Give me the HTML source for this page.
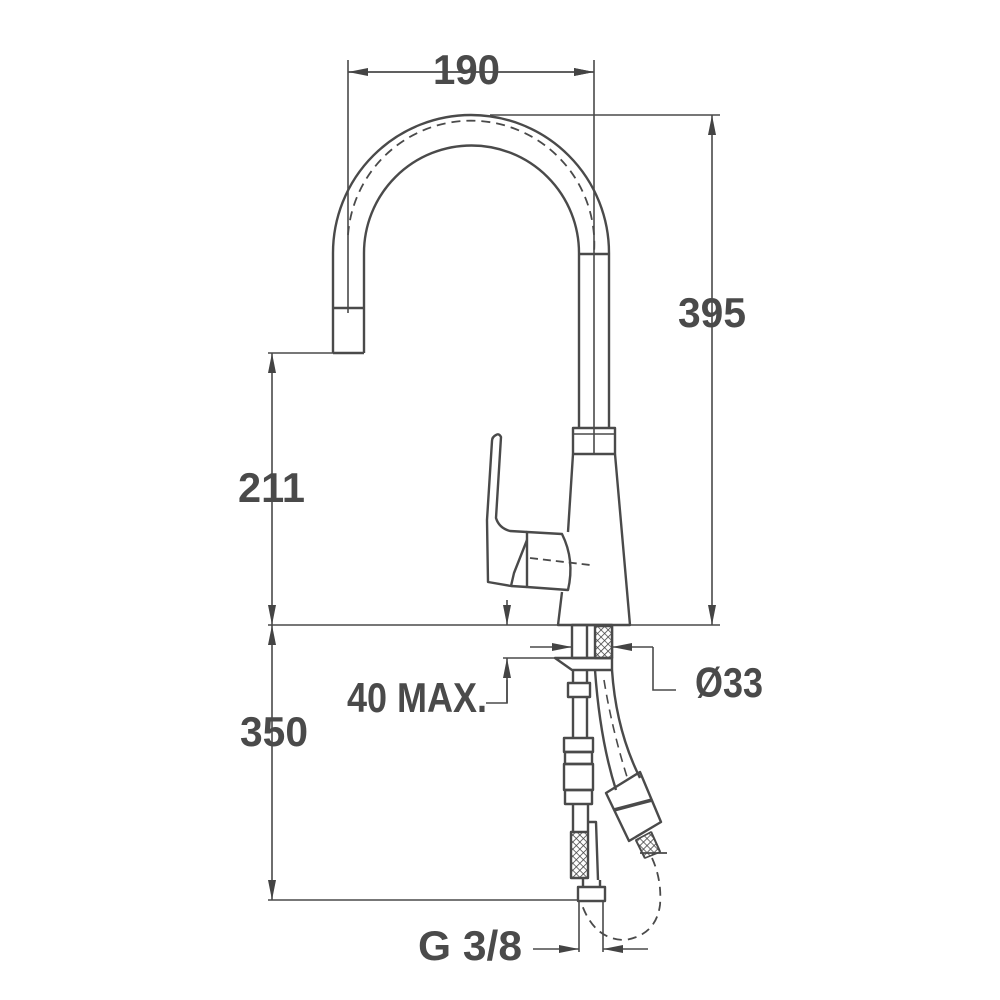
<!DOCTYPE html>
<html><head><meta charset="utf-8"><style>
html,body{margin:0;padding:0;background:#fff;width:1000px;height:1000px;overflow:hidden}
svg{display:block}
text{font-family:"Liberation Sans Narrow","Liberation Sans",sans-serif;font-weight:bold;fill:#4a4a4a;font-size:42px}
</style></head><body>
<svg width="1000" height="1000" viewBox="0 0 1000 1000" xmlns="http://www.w3.org/2000/svg">
<defs>
<marker id="a" viewBox="0 0 20 8" refX="20" refY="4" markerWidth="20" markerHeight="8" markerUnits="userSpaceOnUse" orient="auto">
<path d="M0,0 L20,4 L0,8 Z" fill="#444"/></marker>
<pattern id="h" width="5" height="5" patternUnits="userSpaceOnUse" patternTransform="rotate(45)">
<rect width="5" height="5" fill="#fff"/><path d="M0,0V5M0,0H5" stroke="#444" stroke-width="1.6"/></pattern>
</defs>
<g fill="none" stroke="#4a4a4a" stroke-width="1.6">
<!-- dimension lines -->
<line x1="348" y1="60" x2="348" y2="313"/>
<line x1="594" y1="60" x2="594" y2="428"/>
<line x1="348" y1="72" x2="594" y2="72" marker-end="url(#a)" marker-start="url(#a)" style="marker-start:none"/>
<line x1="470" y1="72" x2="348" y2="72" marker-end="url(#a)"/>
<line x1="470" y1="72" x2="594" y2="72" marker-end="url(#a)"/>
<line x1="490" y1="115" x2="720" y2="115"/>
<line x1="712" y1="370" x2="712" y2="115" marker-end="url(#a)"/>
<line x1="712" y1="370" x2="712" y2="625" marker-end="url(#a)"/>
<line x1="268" y1="353" x2="333" y2="353"/>
<line x1="272" y1="490" x2="272" y2="353" marker-end="url(#a)"/>
<line x1="272" y1="490" x2="272" y2="625" marker-end="url(#a)"/>
<line x1="268" y1="625" x2="720" y2="625"/>
<line x1="272" y1="760" x2="272" y2="625" marker-end="url(#a)"/>
<line x1="272" y1="760" x2="272" y2="900" marker-end="url(#a)"/>
<line x1="268" y1="900" x2="579" y2="900"/>
<!-- 40 max -->
<line x1="507" y1="600" x2="507" y2="625" marker-end="url(#a)"/>
<polyline points="507,680 507,703 486,703"/>
<line x1="507" y1="703" x2="507" y2="658" marker-end="url(#a)"/>
<line x1="503" y1="658" x2="560" y2="658"/>
<!-- Ø33 -->
<line x1="530" y1="647" x2="572" y2="647" marker-end="url(#a)"/>
<polyline points="653,647 653,690 676,690"/>
<line x1="653" y1="647" x2="612" y2="647" marker-end="url(#a)"/>
<!-- G 3/8 -->
<line x1="579" y1="900" x2="579" y2="952"/>
<line x1="603" y1="900" x2="603" y2="952"/>
<line x1="533" y1="949" x2="579" y2="949" marker-end="url(#a)"/>
<line x1="648" y1="949" x2="603" y2="949" marker-end="url(#a)"/>
</g>
<g fill="none" stroke="#4a4a4a" stroke-width="2.4" stroke-linejoin="round">
<!-- spout -->
<path d="M333,353 L333,253 A138,138 0 0 1 609,253 L609,428"/>
<path d="M364,353 L364,253 A107,107 0 0 1 579,253 L579,428"/>
<line x1="333" y1="353" x2="364" y2="353"/>
<line x1="333" y1="308" x2="364" y2="308"/>
<line x1="579" y1="254" x2="609" y2="254"/>
<path d="M348,235 A123,123 0 0 1 594,253" stroke-dasharray="9,6" stroke-width="1.8"/>
<!-- collar -->
<rect x="573" y="428" width="42" height="26"/>
<line x1="594" y1="428" x2="594" y2="454" stroke-width="1.6"/>
<line x1="573" y1="434" x2="615" y2="434" stroke-width="1.6"/>
<!-- body -->
<path d="M573,454 L568,532 M562,592 L558,625 L630,625 L615,454"/>
<!-- cylinder -->
<path d="M527,532 L562,534 Q575,560 568,590 L527,587 Z"/>
<line x1="530" y1="558" x2="590" y2="565" stroke-dasharray="8,5" stroke-width="1.8"/>
<!-- lever -->
<path d="M527,532 L510,531 Q499,528 496,518 L501,437 Q499,433 496,435 Q492,437 492,441 L487,520 L488,582 L511,586 L527,587"/>
<path d="M527,540 L514,573 L511,586"/>
<!-- shank -->
<rect x="572" y="625" width="40" height="33"/>
<line x1="587" y1="625" x2="587" y2="658"/>
<rect x="595" y="626" width="17" height="32" fill="url(#h)"/>
<path d="M555,658 L612,658 L612,670 L572,670 Z"/>
<!-- left hose -->
<line x1="573" y1="670" x2="573" y2="683"/><line x1="587" y1="670" x2="587" y2="683"/>
<rect x="568" y="683" width="22" height="14"/>
<line x1="573" y1="697" x2="573" y2="738"/><line x1="587" y1="697" x2="587" y2="738"/>
<rect x="564" y="738" width="29" height="14"/>
<rect x="565" y="752" width="27" height="12"/>
<rect x="564" y="764" width="29" height="26"/>
<rect x="565" y="790" width="27" height="14"/>
<line x1="573" y1="804" x2="573" y2="832"/><line x1="588" y1="804" x2="588" y2="832"/>
<rect x="571" y="832" width="17" height="46" fill="url(#h)"/>
<path d="M588,822 L596,822 L598,880"/>
<rect x="578" y="887" width="27" height="14"/>
<path d="M583,878 L583,887 M600,880 L600,887"/>
<!-- right hose -->
<path d="M595,670 Q600,740 616,790"/>
<path d="M612,670 Q616,730 640,778"/>
<path d="M604,680 Q612,730 628,780" stroke-dasharray="9,6" stroke-width="1.6"/>
<path d="M606,793 L640,772 L661,822 L629,841 Z"/>
<path d="M614,810 L652,800" stroke-width="3.5"/>
<path d="M636,840 L645,858 M651,832 L660,852" />
<path d="M636,840 L651,832 L660,852 L645,858 Z" fill="url(#h)" stroke-width="1.6"/>
<line x1="640" y1="853" x2="667" y2="853" stroke-width="1.8"/>
<path d="M652,858 Q662,880 660,905 Q656,935 625,940 Q595,940 582,905" stroke-dasharray="9,6" stroke-width="1.8"/>
</g>
<text x="433" y="84" textLength="67" lengthAdjust="spacingAndGlyphs">190</text>
<text x="678" y="327" textLength="68" lengthAdjust="spacingAndGlyphs">395</text>
<text x="238" y="502" textLength="67" lengthAdjust="spacingAndGlyphs">211</text>
<text x="240" y="746" textLength="68" lengthAdjust="spacingAndGlyphs">350</text>
<text x="347" y="712" textLength="140" lengthAdjust="spacingAndGlyphs">40 MAX.</text>
<text x="695" y="697" textLength="68" lengthAdjust="spacingAndGlyphs">Ø33</text>
<text x="418" y="960" textLength="104" lengthAdjust="spacingAndGlyphs">G 3/8</text>
</svg>
</body></html>
